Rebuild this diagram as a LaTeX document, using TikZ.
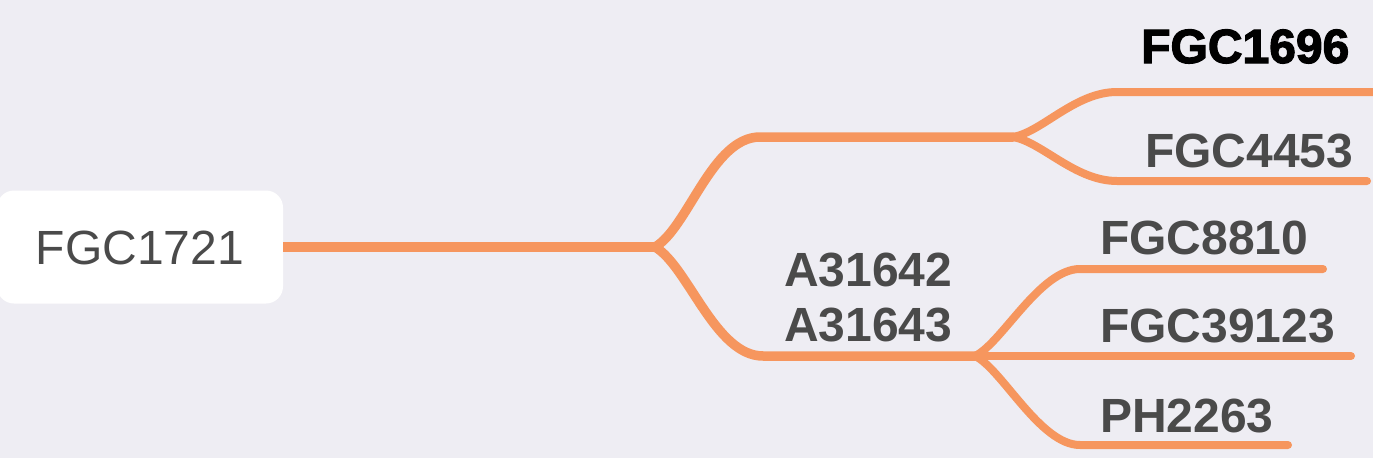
\documentclass[tikz,border=0pt]{standalone}
\usepackage{fontspec}
\setmainfont{Liberation Sans}
\newfontfamily\heavyfont[FakeBold=2.5]{Liberation Sans Bold}
\definecolor{bgc}{RGB}{238,237,243}
\definecolor{branch}{RGB}{246,150,94}
\definecolor{txt}{RGB}{74,74,74}
\begin{document}
\begin{tikzpicture}[x=1pt,y=-1pt,
  lab/.style={anchor=base west,inner sep=0pt,font=\fontsize{48}{52}\selectfont\bfseries,text=txt},
  br/.style={draw=branch,line cap=round,line join=round},
  lv1/.style={br,line width=9.5pt},
  lv2/.style={br,line width=8pt}]
\path[fill=bgc,use as bounding box] (0,0) rectangle (1373,458);
% root
\node[fill=white,rounded corners=17pt,minimum width=286pt,minimum height=113pt,
  text height=34pt,text depth=0pt,inner sep=0pt,text=txt,
  font=\fontsize{48}{52}\selectfont] (root) at (140,247) {FGC1721};
% split and end coordinates
\coordinate (s1) at (655,247);
\coordinate (u1) at (760,137);
\coordinate (s2) at (1013,137);
\coordinate (d1) at (763,356);
\coordinate (s3) at (975,356);
\coordinate (a1) at (1117,92);
\coordinate (a2) at (1380,92);
\coordinate (b1) at (1117,181);
\coordinate (b2) at (1367,181);
\coordinate (c1) at (1080,269);
\coordinate (c2) at (1323,269);
\coordinate (e2) at (1351,356);
\coordinate (f1) at (1080,445);
\coordinate (f2) at (1288,445);
% connectors
\draw[lv1,line width=10pt,line cap=butt] (root.east) -- (s1);
\draw[lv1] (s1) .. controls (688,228) and (712,137) .. (u1) -- (s2);
\draw[lv1] (s1) .. controls (688,266) and (715,356) .. (d1) -- (s3);
\draw[lv2] (s2) .. controls (1042,132) and (1075,92) .. (a1) -- (a2);
\draw[lv2] (s2) .. controls (1042,142) and (1075,181) .. (b1) -- (b2);
\draw[lv2] (s3) .. controls (1002,343) and (1040,269) .. (c1) -- (c2);
\draw[lv2] (s3) -- (e2);
\draw[lv2] (s3) .. controls (1002,369) and (1040,445) .. (f1) -- (f2);
% labels
\node[lab,text=black] (n1696) at (1141,63) {\heavyfont FGC1696};
\node[lab] (n4453) at (1145,167) {FGC4453};
\node[lab] (na1) at (784,286) {A31642};
\node[lab] (na2) at (784,341) {A31643};
\node[lab] (n8810) at (1100,254) {FGC8810};
\node[lab] (n39123) at (1100,342) {FGC39123};
\node[lab] (n2263) at (1100,432) {PH2263};
\end{tikzpicture}
\end{document}
